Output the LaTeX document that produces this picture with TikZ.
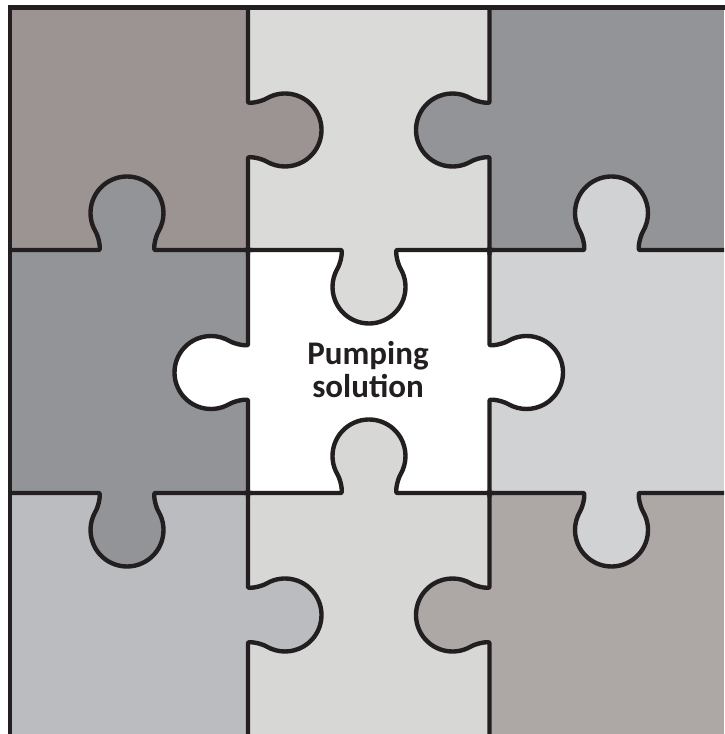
\documentclass[tikz,border=0pt]{standalone}
\usepackage{fontspec}
\setmainfont{Carlito}
\definecolor{cTL}{HTML}{9C9492}
\definecolor{cTM}{HTML}{DADBD9}
\definecolor{cTR}{HTML}{939498}
\definecolor{cML}{HTML}{939498}
\definecolor{cMR}{HTML}{D1D2D4}
\definecolor{cBL}{HTML}{BBBCC0}
\definecolor{cBM}{HTML}{D7D7D5}
\definecolor{cBR}{HTML}{ADA8A5}
\definecolor{ink}{HTML}{231F20}
\tikzset{
  edgeline/.style={draw=ink, line width=4.4pt, line join=round},
  tabfill/.pic={
    \fill[#1] (-28,0) .. controls (-26,0.5) and (-28.1,12.69) .. (-31.61,18.75)
      arc[start angle=210, end angle=-30, radius=36.5]
      .. controls (28.1,12.69) and (26,0.5) .. (28,0) -- (28,-1.8) -- (-28,-1.8) -- cycle;
  },
  tabedge/.pic={
    \path[edgeline] (-125,0) -- (-28,0) .. controls (-26,0.5) and (-28.1,12.69) .. (-31.61,18.75)
      arc[start angle=210, end angle=-30, radius=36.5]
      .. controls (28.1,12.69) and (26,0.5) .. (28,0) -- (125,0);
  },
  cell/.style={fill=#1, draw=none},
  label/.style={font=\bfseries\fontsize{33}{33}\selectfont, text=ink, align=center, inner sep=0pt}
}
\begin{document}
\begin{tikzpicture}[x=1pt,y=1pt]
\useasboundingbox (0,0) rectangle (724,734);
\fill[white] (0,0) rectangle (724,734);
% cells
\path[cell=cTL] (10,484) rectangle (248,726.5);
\path[cell=cTM] (248,484) rectangle (489.5,726.5);
\path[cell=cTR] (489.5,484) rectangle (724,726.5);
\path[cell=cML] (10,241) rectangle (248,484);
\path[cell=white] (248,241) rectangle (489.5,484);
\path[cell=cMR] (489.5,241) rectangle (724,484);
\path[cell=cBL] (10,0) rectangle (248,241);
\path[cell=cBM] (248,0) rectangle (489.5,241);
\path[cell=cBR] (489.5,0) rectangle (724,241);
% tab fills
\pic[rotate=-90] at (248,604) {tabfill=cTL};
\pic[rotate=90] at (489.5,604) {tabfill=cTR};
\pic[rotate=0] at (127,484) {tabfill=cML};
\pic[rotate=180] at (369,484) {tabfill=cTM};
\pic[rotate=0] at (611.5,484) {tabfill=cMR};
\pic[rotate=90] at (248,361.5) {tabfill=white};
\pic[rotate=-90] at (489.5,361.5) {tabfill=white};
\pic[rotate=180] at (127,241) {tabfill=cML};
\pic[rotate=0] at (369,241) {tabfill=cBM};
\pic[rotate=180] at (611.5,241) {tabfill=cMR};
\pic[rotate=-90] at (248,119) {tabfill=cBL};
\pic[rotate=90] at (489.5,119) {tabfill=cBR};
% edges
\begin{scope}
\clip (10,0) rectangle (724,726.5);
\pic[rotate=-90] at (248,604) {tabedge};
\pic[rotate=90] at (489.5,604) {tabedge};
\pic[rotate=0] at (127,484) {tabedge};
\pic[rotate=180] at (369,484) {tabedge};
\pic[rotate=0] at (611.5,484) {tabedge};
\pic[rotate=90] at (248,361.5) {tabedge};
\pic[rotate=-90] at (489.5,361.5) {tabedge};
\pic[rotate=180] at (127,241) {tabedge};
\pic[rotate=0] at (369,241) {tabedge};
\pic[rotate=180] at (611.5,241) {tabedge};
\pic[rotate=-90] at (248,119) {tabedge};
\pic[rotate=90] at (489.5,119) {tabedge};
\end{scope}
% outer border
\draw[draw=ink, line width=4.5pt, line join=miter] (10,-5) -- (10,726.5) -- (730,726.5);
% label
\node[label] (txt) at (368,364) {Pumping\\solution};
\end{tikzpicture}
\end{document}
